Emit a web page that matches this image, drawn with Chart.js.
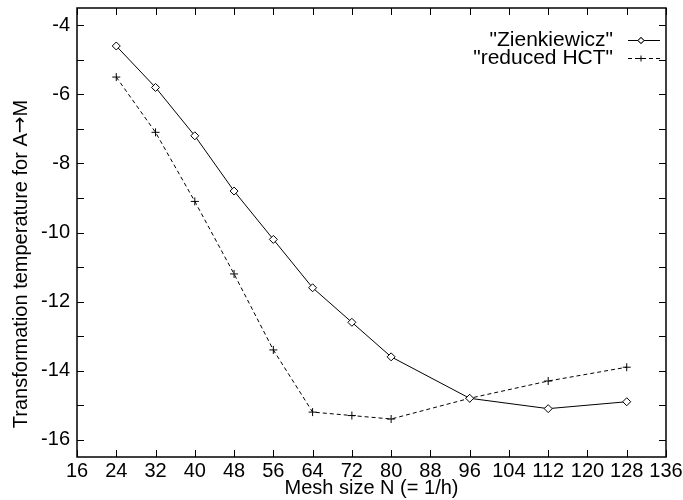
<!DOCTYPE html>
<html>
<head>
<meta charset="utf-8">
<script src="https://cdn.jsdelivr.net/npm/chart.js@4"></script>
<style>
  html, body { margin: 0; padding: 0; background: #fff; }
  #wrap { width: 683px; height: 500px; }
</style>
</head>
<body>
<div id="wrap"><canvas id="chart"></canvas></div>
<script>
// data
const meshSizes = [24, 32, 40, 48, 56, 64, 72, 80, 96, 112, 128];
const zienkiewicz = [-4.6, -5.8, -7.2, -8.8, -10.2, -11.6, -12.6, -13.6, -14.8, -15.1, -14.9];
const reducedHCT = [-5.5, -7.1, -9.1, -11.2, -13.4, -15.2, -15.3, -15.4, -14.8, -14.3, -13.9];
const seriesNames = ['"Zienkiewicz"', '"reduced HCT"'];

// tick labels
const xTicks = [16, 24, 32, 40, 48, 56, 64, 72, 80, 88, 96, 104, 112, 120, 128, 136];
const yTicks = [-16, -15, -14, -13, -12, -11, -10, -9, -8, -7, -6, -5, -4];
const yLabels = [-16, -14, -12, -10, -8, -6, -4];

const FONT = 'Liberation Sans, Arial, sans-serif';
const FSIZE = 20;

function toPoints(ys) {
  return meshSizes.map((x, i) => ({ x: x, y: ys[i] }));
}

// gnuplot style frame with inward ticks on all four sides
const framePlugin = {
  id: 'frame',
  afterDraw(chart) {
    const ctx = chart.ctx;
    const a = chart.chartArea;
    const sx = chart.scales.x, sy = chart.scales.y;
    const len = 7;
    ctx.save();
    ctx.strokeStyle = '#000';
    ctx.lineWidth = 1;
    ctx.beginPath();
    xTicks.forEach(v => {
      const px = Math.round(sx.getPixelForValue(v)) + 0.5;
      ctx.moveTo(px, a.bottom); ctx.lineTo(px, a.bottom - len);
      ctx.moveTo(px, a.top); ctx.lineTo(px, a.top + len);
    });
    yTicks.forEach(v => {
      const py = Math.round(sy.getPixelForValue(v)) + 0.5;
      ctx.moveTo(a.left, py); ctx.lineTo(a.left + len, py);
      ctx.moveTo(a.right, py); ctx.lineTo(a.right - len, py);
    });
    ctx.stroke();
    ctx.lineWidth = 1.5;
    ctx.strokeRect(a.left, a.top, a.right - a.left, a.bottom - a.top);
    ctx.restore();
  }
};

// y title drawn by hand so the arrow can come from a font that has a proper one
const yTitlePlugin = {
  id: 'ytitle',
  afterDraw(chart) {
    const ctx = chart.ctx;
    const parts = [
      ['Transformation temperature for A', FSIZE + 'px ' + FONT],
      ['\u2192', FSIZE + 'px DejaVu Sans'],
      ['M', FSIZE + 'px ' + FONT]
    ];
    let total = 0;
    parts.forEach(p => { ctx.font = p[1]; total += ctx.measureText(p[0]).width; });
    ctx.save();
    ctx.translate(21, 264);
    ctx.rotate(-Math.PI / 2);
    ctx.fillStyle = '#000';
    ctx.textBaseline = 'middle';
    ctx.textAlign = 'left';
    let x = -total / 2;
    parts.forEach(p => {
      ctx.font = p[1];
      ctx.fillText(p[0], x, 0);
      x += ctx.measureText(p[0]).width;
    });
    ctx.restore();
  }
};

// legend drawn the way gnuplot does it: text, then a line sample with its marker
const keyPlugin = {
  id: 'key',
  afterDraw(chart) {
    const ctx = chart.ctx;
    const textRight = 613, lineL = 628, lineR = 660, mid = 641;
    const rows = [40, 58];
    ctx.save();
    ctx.font = '21px ' + FONT;
    ctx.fillStyle = '#000';
    ctx.textAlign = 'right';
    ctx.textBaseline = 'middle';
    chart.data.datasets.forEach((ds, i) => {
      const y = rows[i] + 0.5;
      ctx.fillText(ds.label, textRight, rows[i]);
      ctx.strokeStyle = '#000';
      ctx.lineWidth = 1;
      ctx.setLineDash(ds.borderDash || []);
      ctx.beginPath();
      ctx.moveTo(lineL, y); ctx.lineTo(lineR, y);
      ctx.stroke();
      ctx.setLineDash([]);
      Chart.helpers.drawPoint(ctx, {
        pointStyle: ds.pointStyle, radius: ds.pointRadius - 1, rotation: 0, borderWidth: 1
      }, mid, y);
      if (ds.pointStyle === 'rectRot') {
        ctx.fillStyle = '#fff';
        ctx.fill();
        ctx.stroke();
        ctx.fillStyle = '#000';
      }
    });
    ctx.restore();
  }
};

new Chart(document.getElementById('chart'), {
  type: 'line',
  data: {
    datasets: [
      {
        label: seriesNames[0],
        data: toPoints(zienkiewicz),
        borderColor: '#000',
        borderWidth: 1,
        pointStyle: 'rectRot',
        pointRadius: 4,
        pointBorderWidth: 1,
        pointBackgroundColor: '#fff',
        pointBorderColor: '#000',
        tension: 0
      },
      {
        label: seriesNames[1],
        data: toPoints(reducedHCT),
        borderColor: '#000',
        borderWidth: 1,
        borderDash: [4, 3],
        pointStyle: 'cross',
        pointRadius: 4,
        pointBorderWidth: 1,
        pointBorderColor: '#000',
        tension: 0
      }
    ]
  },
  options: {
    responsive: true,
    maintainAspectRatio: false,
    animation: false,
    events: [],
    layout: { padding: { top: 8, right: 17, bottom: 0, left: 0 } },
    plugins: {
      legend: { display: false },
      tooltip: { enabled: false }
    },
    scales: {
      x: {
        type: 'linear',
        min: 16,
        max: 136,
        afterBuildTicks: s => { s.ticks = xTicks.map(v => ({ value: v })); },
        afterFit: s => { s.height = 43; s.paddingLeft = 0; s.paddingRight = 0; },
        grid: { display: false, drawTicks: false },
        border: { display: false },
        ticks: {
          color: '#000',
          padding: 2,
          maxRotation: 0,
          autoSkip: false,
          font: { family: FONT, size: FSIZE }
        },
        title: {
          display: true,
          text: 'Mesh size N (= 1/h)',
          color: '#000',
          font: { family: FONT, size: FSIZE },
          padding: { top: 0, bottom: 0 }
        }
      },
      y: {
        min: -16.5,
        max: -3.5,
        afterBuildTicks: s => { s.ticks = yTicks.map(v => ({ value: v })); },
        afterFit: s => { s.width = 77; s.paddingTop = 0; s.paddingBottom = 0; },
        grid: { display: false, drawTicks: false },
        border: { display: false },
        ticks: {
          color: '#000',
          padding: 7,
          autoSkip: false,
          font: { family: FONT, size: FSIZE },
          callback: v => (yLabels.includes(v) ? String(v) : '')
        }
      }
    }
  },
  plugins: [framePlugin, yTitlePlugin, keyPlugin]
});
</script>
</body>
</html>
